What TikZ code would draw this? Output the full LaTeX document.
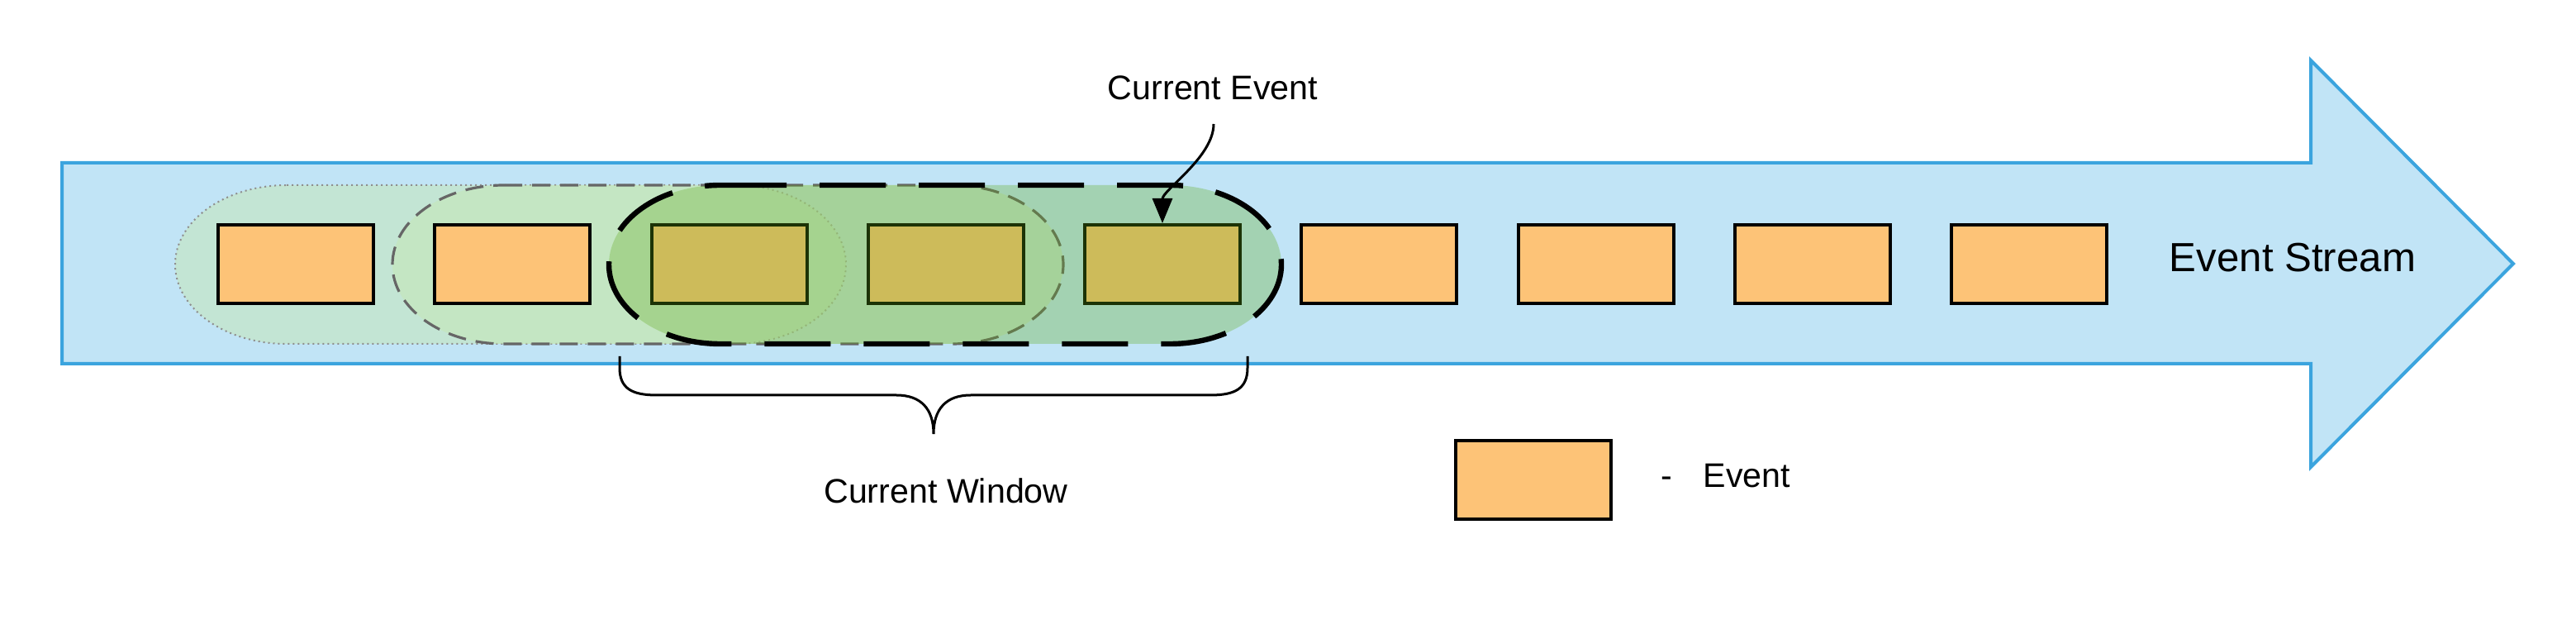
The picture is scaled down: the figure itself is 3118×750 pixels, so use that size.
\documentclass[tikz,border=0pt]{standalone}
\usepackage{fontspec}
\setmainfont{Liberation Sans}
\usetikzlibrary{arrows.meta}
\definecolor{streamfill}{HTML}{C1E4F6}
\definecolor{streamline}{HTML}{3BA4DE}
\definecolor{evfill}{HTML}{FDC377}
\definecolor{winfill}{RGB}{198,231,180}
\definecolor{curfill}{HTML}{60A917}
\definecolor{dotgray}{HTML}{8F8F8F}
\definecolor{dashgray}{HTML}{666666}
\begin{document}
\begin{tikzpicture}[x=0.25pt,y=0.25pt,
  stream/.style={draw=streamline, line width=1pt, fill=streamfill},
  event/.style={draw=black, line width=1pt, fill=evfill, minimum width=47pt, minimum height=23.75pt, inner sep=0pt},
  winA/.style={draw=dotgray, line width=0.5pt, dash pattern=on 0.5pt off 1pt, fill=winfill, fill opacity=0.5, draw opacity=1},
  winB/.style={draw=dashgray, line width=0.8pt, dash pattern=on 5.5pt off 3pt, fill=winfill, fill opacity=0.5, draw opacity=1},
  winC/.style={draw=black, line width=1.6pt, dash pattern=on 20pt off 10pt, fill=curfill, fill opacity=0.3, draw opacity=1},
  lbl/.style={font=\fontsize{10.3pt}{12pt}\selectfont, inner sep=0pt},
  biglbl/.style={font=\fontsize{12.3pt}{14pt}\selectfont, inner sep=0pt},
  pointer/.style={draw=black, line width=0.75pt, -{Triangle[length=7.5pt,width=6pt]}},
  brace/.style={draw=black, line width=0.75pt}]
\useasboundingbox (0,0) rectangle (3118,750);

% stream arrow
\draw[stream] (75,553) -- (2797,553) -- (2797,677) -- (3042,431) -- (2797,185) -- (2797,310) -- (75,310) -- cycle;

% older windows (behind events)
\path[winA] (347,526) -- (889,526) arc[start angle=90,end angle=-90,x radius=33.75pt,y radius=24pt] -- (347,334) arc[start angle=270,end angle=90,x radius=33.75pt,y radius=24pt] -- cycle;
\path[winB] (610,526) -- (1152,526) arc[start angle=90,end angle=-90,x radius=33.75pt,y radius=24pt] -- (610,334) arc[start angle=270,end angle=90,x radius=33.75pt,y radius=24pt] -- cycle;

% events
\node[event] (e1) at (358,430.5) {};
\node[event] (e2) at (620.25,430.5) {};
\node[event] (e3) at (882.5,430.5) {};
\node[event] (e4) at (1144.75,430.5) {};
\node[event] (e5) at (1407,430.5) {};
\node[event] (e6) at (1669.25,430.5) {};
\node[event] (e7) at (1931.5,430.5) {};
\node[event] (e8) at (2193.75,430.5) {};
\node[event] (e9) at (2456,430.5) {};

% current window (over events)
\path[winC] (872,526) -- (1416,526) arc[start angle=90,end angle=-90,x radius=33.75pt,y radius=24pt] -- (872,334) arc[start angle=270,end angle=90,x radius=33.75pt,y radius=24pt] -- cycle;

% labels
\node[lbl, anchor=base] (cev) at (1468,629) {Current Event};
\node[biglbl, anchor=base] (es) at (2775,421) {Event Stream};
\node[lbl, anchor=base] (cw) at (1145,141) {Current Window};

% current event pointer
\coordinate (cestart) at (1469,600);
\draw[pointer] (cestart) .. controls (1469,560) and (1407,520) .. (e5.north);

% brace
\draw[brace] (750,319) -- (750,305) .. controls (750,280) and (765,272) .. (795,272) -- (1085,272) .. controls (1115,272) and (1130,255) .. (1130,225) .. controls (1130,255) and (1145,272) .. (1175,272) -- (1465,272) .. controls (1495,272) and (1510,280) .. (1510,305) -- (1510,319);

% legend
\node[event] (leg) at (1856,169) {};
\node[lbl, anchor=base] (legdash) at (2017,160) {-};
\node[lbl, anchor=base west] (legtxt) at (2061,160) {Event};
\end{tikzpicture}
\end{document}
